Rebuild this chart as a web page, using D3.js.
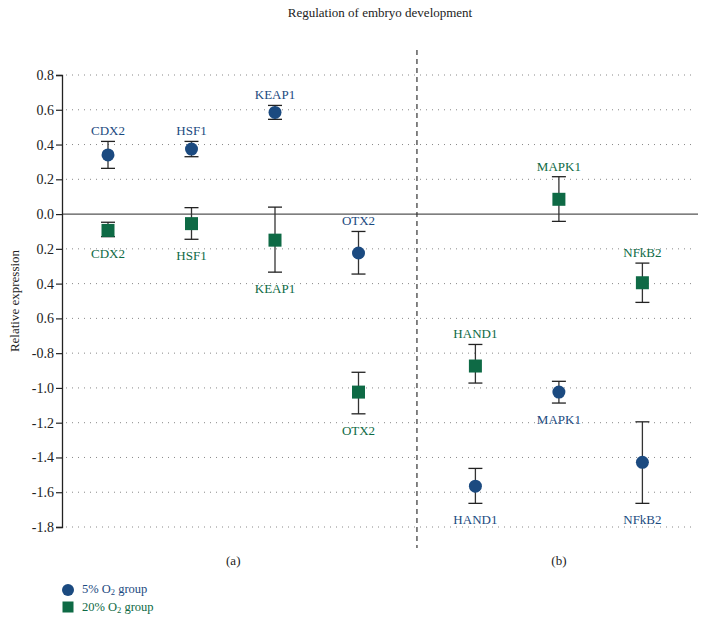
<!DOCTYPE html>
<html>
<head>
<meta charset="utf-8">
<script src="https://cdn.jsdelivr.net/npm/d3@7"></script>
<style>
  body { margin: 0; background: #fff; }
  svg text { font-family: "Liberation Serif", "DejaVu Serif", serif; }
</style>
</head>
<body>
<svg id="chart" width="707" height="624"></svg>
<script>
// genes, positions on the x axis (index units), and panel
const genes = ["CDX2", "HSF1", "KEAP1", "OTX2", "HAND1", "MAPK1", "NFkB2"];
const genePos = [0, 1, 2, 3, 4.4, 5.4, 6.4];

// 5% O2 group (circles)
const low = [0.34, 0.374, 0.585, -0.224, -1.565, -1.024, -1.428];
const lowHi = [0.418, 0.418, 0.625, -0.10, -1.463, -0.962, -1.195];
const lowLo = [0.263, 0.33, 0.545, -0.345, -1.664, -1.087, -1.664];
const lowLabelAbove = [true, true, true, true, false, false, false];

// 20% O2 group (squares)
const high = [-0.094, -0.055, -0.15, -1.024, -0.874, 0.085, -0.395];
const highHi = [-0.047, 0.037, 0.04, -0.91, -0.75, 0.215, -0.282];
const highLo = [-0.13, -0.145, -0.334, -1.149, -0.972, -0.042, -0.508];
const highLabelAbove = [false, false, false, false, true, true, true];

const yTicks = [0.8, 0.6, 0.4, 0.2, 0, -0.2, -0.4, -0.6, -0.8, -1.0, -1.2, -1.4, -1.6, -1.8];
const yTickLabels = ["0.8", "0.6", "0.4", "0.2", "0.0", "0.2", "0.4", "0.6", "-0.8", "-1.0", "-1.2", "-1.4", "-1.6", "-1.8"];

const panels = ["(a)", "(b)"];
const panelPos = [1.5, 5.4];
const dividerPos = 3.7;

const blue = "#1b4a80";
const green = "#0e6a45";

const svg = d3.select("#chart");

const x = d3.scaleLinear().domain([0, 1]).range([108, 191.5]);
const y = d3.scaleLinear().domain([-1.8, 0.8]).range([527, 75]);

// title
svg.append("text")
    .attr("x", 380).attr("y", 17)
    .attr("text-anchor", "middle")
    .style("font-size", "13px")
    .attr("fill", "#222")
    .text("Regulation of embryo development");

// dotted grid
svg.append("g")
    .selectAll("line")
    .data(yTicks.filter(d => d !== 0))
    .enter()
    .append("line")
    .attr("x1", 66).attr("x2", 696)
    .attr("y1", d => y(d)).attr("y2", d => y(d))
    .attr("stroke", "#888")
    .attr("stroke-width", 1)
    .attr("stroke-dasharray", "1,5");

// zero line
svg.append("line")
    .attr("x1", 62).attr("x2", 698)
    .attr("y1", y(0)).attr("y2", y(0))
    .attr("stroke", "#555")
    .attr("stroke-width", 1.3);

// y axis
const yAxis = d3.axisLeft(y)
    .tickValues(yTicks)
    .tickSize(6)
    .tickFormat((d, i) => yTickLabels[i]);

const yg = svg.append("g")
    .attr("transform", "translate(62,0)")
    .call(yAxis);
yg.select(".domain").attr("stroke", "#222").attr("stroke-width", 1.3);
yg.selectAll(".tick line").attr("stroke", "#222").attr("stroke-width", 1.2);
yg.selectAll(".tick text")
    .attr("x", -8)
    .attr("fill", "#222")
    .style("font-family", "Liberation Serif, serif")
    .style("font-size", "14px");

// y axis title
svg.append("text")
    .attr("transform", `translate(19,${(y(0.8) + y(-1.8)) / 2}) rotate(-90)`)
    .attr("text-anchor", "middle")
    .style("font-size", "13px")
    .attr("fill", "#222")
    .text("Relative expression");

// panel divider
svg.append("line")
    .attr("x1", x(dividerPos)).attr("x2", x(dividerPos))
    .attr("y1", 50).attr("y2", 548)
    .attr("stroke", "#333")
    .attr("stroke-width", 1.2)
    .attr("stroke-dasharray", "5,4");

// panel labels
svg.append("g")
    .selectAll("text")
    .data(panels)
    .enter()
    .append("text")
    .attr("x", (d, i) => x(panelPos[i]))
    .attr("y", 565)
    .attr("text-anchor", "middle")
    .style("font-size", "13px")
    .attr("fill", "#222")
    .text(d => d);

function series(vals, his, los, above, color, shape) {
    const data = genes.map((g, i) => ({
        gene: g, pos: genePos[i], v: vals[i], hi: his[i], lo: los[i], above: above[i]
    }));
    const g = svg.append("g");

    const err = g.selectAll("g.err").data(data).enter().append("g").attr("class", "err");
    err.append("line")
        .attr("x1", d => x(d.pos)).attr("x2", d => x(d.pos))
        .attr("y1", d => y(d.hi)).attr("y2", d => y(d.lo))
        .attr("stroke", "#333").attr("stroke-width", 1.3);
    err.append("line")
        .attr("x1", d => x(d.pos) - 7).attr("x2", d => x(d.pos) + 7)
        .attr("y1", d => y(d.hi)).attr("y2", d => y(d.hi))
        .attr("stroke", "#222").attr("stroke-width", 1.3);
    err.append("line")
        .attr("x1", d => x(d.pos) - 7).attr("x2", d => x(d.pos) + 7)
        .attr("y1", d => y(d.lo)).attr("y2", d => y(d.lo))
        .attr("stroke", "#222").attr("stroke-width", 1.3);

    if (shape === "circle") {
        g.selectAll("circle").data(data).enter().append("circle")
            .attr("cx", d => x(d.pos)).attr("cy", d => y(d.v))
            .attr("r", 6.5).attr("fill", color);
    } else {
        g.selectAll("rect").data(data).enter().append("rect")
            .attr("x", d => x(d.pos) - 6.5).attr("y", d => y(d.v) - 6.5)
            .attr("width", 13).attr("height", 13).attr("fill", color);
    }

    g.selectAll("text").data(data).enter().append("text")
        .attr("x", d => x(d.pos))
        .attr("y", d => d.above ? y(d.hi) - 6 : y(d.lo) + 21)
        .attr("text-anchor", "middle")
        .style("font-size", "13px")
        .attr("fill", color)
        .text(d => d.gene);
}

series(low, lowHi, lowLo, lowLabelAbove, blue, "circle");
series(high, highHi, highLo, highLabelAbove, green, "square");

// legend
const legend = svg.append("g");
legend.append("circle").attr("cx", 68).attr("cy", 590).attr("r", 6).attr("fill", blue);
legend.append("rect").attr("x", 62.5).attr("y", 601.5).attr("width", 11).attr("height", 11).attr("fill", green);

const l1 = legend.append("text").attr("x", 82).attr("y", 593).style("font-size", "12.5px").attr("fill", blue);
l1.append("tspan").text("5% O");
l1.append("tspan").attr("dy", 2).style("font-size", "8.5px").text("2");
l1.append("tspan").attr("dy", -2).text(" group");

const l2 = legend.append("text").attr("x", 82).attr("y", 611).style("font-size", "12.5px").attr("fill", green);
l2.append("tspan").text("20% O");
l2.append("tspan").attr("dy", 2).style("font-size", "8.5px").text("2");
l2.append("tspan").attr("dy", -2).text(" group");
</script>
</body>
</html>
